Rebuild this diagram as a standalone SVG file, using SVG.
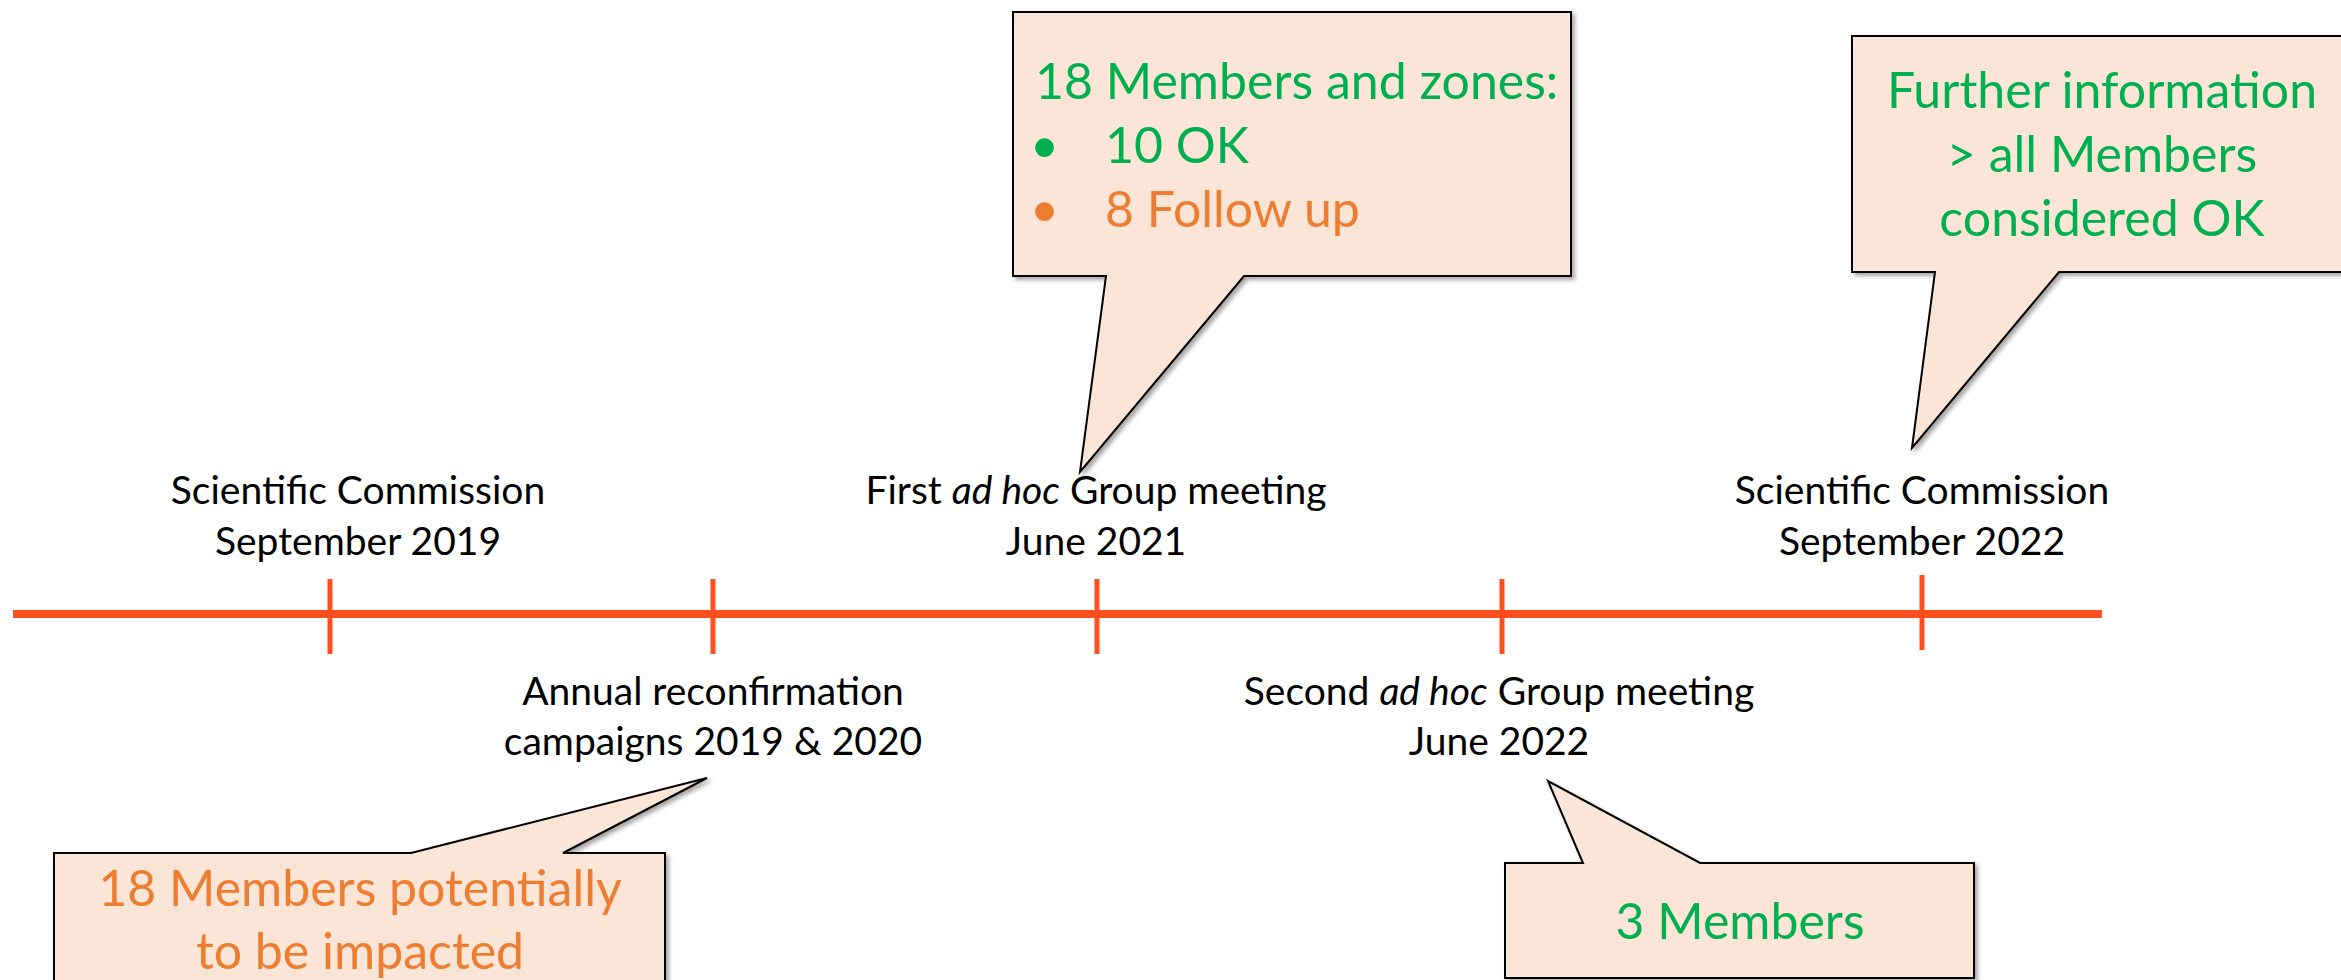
<svg xmlns="http://www.w3.org/2000/svg" width="2341" height="980" viewBox="0 0 2341 980">
<style>
.lbl{font-family:Lato,"Liberation Sans",sans-serif;font-size:39px;fill:#000;text-anchor:middle}
.co{font-family:Lato,"Liberation Sans",sans-serif;font-size:50px}
.g{fill:#00B050}
.o{fill:#ED7D31}
.bub{fill:#FBE5D6;stroke:#000;stroke-width:2;stroke-linejoin:miter;filter:url(#sh)}
.tick{stroke:#FE4F1E;stroke-width:5}
</style>
<defs>
<filter id="sh" x="-5%" y="-5%" width="115%" height="120%">
<feDropShadow dx="3" dy="3" stdDeviation="2" flood-color="#000" flood-opacity="0.35"/>
</filter>
</defs>
<rect width="2341" height="980" fill="#fff"/>
<g id="connectors">
<line x1="13" y1="614" x2="2102" y2="614" stroke="#FE4F1E" stroke-width="8"/>
<line class="tick" x1="330" y1="579" x2="330" y2="654"/>
<line class="tick" x1="713" y1="579" x2="713" y2="654"/>
<line class="tick" x1="1097" y1="579" x2="1097" y2="654"/>
<line class="tick" x1="1502" y1="579" x2="1502" y2="654"/>
<line class="tick" x1="1922" y1="575" x2="1922" y2="650"/>
</g>
<g id="label-sc2019">
<text class="lbl" x="358" y="504">Scientific Commission</text>
<text class="lbl" x="358" y="555">September 2019</text>
</g>
<g id="label-annual">
<text class="lbl" x="713" y="705">Annual reconfirmation</text>
<text class="lbl" x="713" y="755">campaigns 2019 &amp; 2020</text>
</g>
<g id="label-first">
<text class="lbl" x="1096" y="504">First <tspan font-style="italic">ad hoc</tspan> Group meeting</text>
<text class="lbl" x="1096" y="555">June 2021</text>
</g>
<g id="label-second">
<text class="lbl" x="1499" y="705">Second <tspan font-style="italic">ad hoc</tspan> Group meeting</text>
<text class="lbl" x="1499" y="755">June 2022</text>
</g>
<g id="label-sc2022">
<text class="lbl" x="1922" y="504">Scientific Commission</text>
<text class="lbl" x="1922" y="555">September 2022</text>
</g>
<g id="callout-first">
<path class="bub" d="M1013,12 H1571 V276 H1244 L1080,472 L1106,276 H1013 Z"/>
<text class="co g" x="1035" y="99">18 Members and zones:</text>
<text class="co g" x="1030" y="163">•</text>
<text class="co g" x="1105" y="163">10 OK</text>
<text class="co o" x="1030" y="227">•</text>
<text class="co o" x="1105" y="227">8 Follow up</text>
</g>
<g id="callout-further">
<path class="bub" d="M1852,36 H2370 V272 H2059 L1912,448 L1935,272 H1852 Z"/>
<text class="co g" x="2102" y="108" text-anchor="middle">Further information</text>
<text class="co g" x="2102" y="172" text-anchor="middle">&gt; all Members</text>
<text class="co g" x="2102" y="236" text-anchor="middle">considered OK</text>
</g>
<g id="callout-potential">
<path class="bub" d="M54,853 H411 L707,778 L563,853 H665 V1000 H54 Z"/>
<text class="co o" x="360" y="906" text-anchor="middle">18 Members potentially</text>
<text class="co o" x="360" y="969" text-anchor="middle">to be impacted</text>
</g>
<g id="callout-three">
<path class="bub" d="M1505,863 H1583 L1548,781 L1700,863 H1974 V978 H1505 Z"/>
<text class="co g" x="1740" y="939" text-anchor="middle">3 Members</text>
</g>
</svg>
